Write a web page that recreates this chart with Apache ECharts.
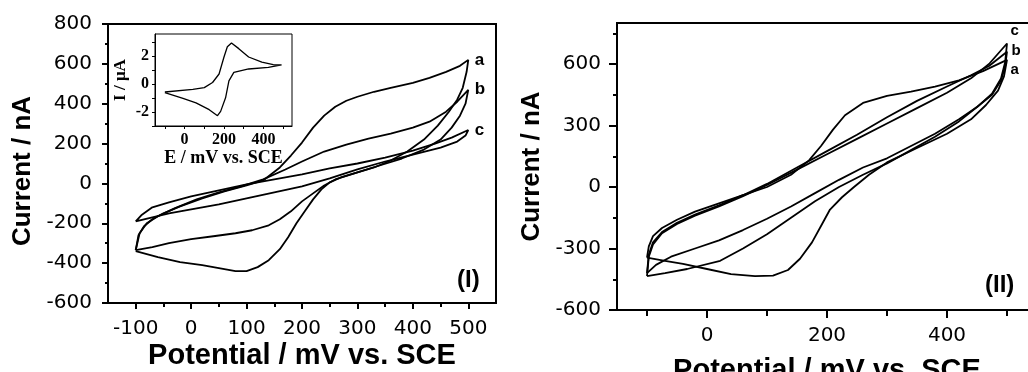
<!DOCTYPE html>
<html>
<head>
<meta charset="utf-8">
<script src="https://cdn.jsdelivr.net/npm/echarts@6/dist/echarts.min.js"></script>
<style>
  html, body { margin: 0; padding: 0; background: #fff; }
  #chart { width: 1028px; height: 372px; }
</style>
</head>
<body>
<div id="chart"></div>
<script>
// ---- panel (I): potential (mV) and current (nA) of each scan ----
const leftA_E = [-100, -95, -85, -70, -50, -20, 20, 60, 100, 130, 160, 180, 200, 220, 240, 260, 280, 300, 330, 360, 400, 430, 460, 485, 500,
  497, 490, 480, 465, 445, 420, 390, 360, 330, 300, 270, 250, 235, 220, 205, 190, 175, 160, 140, 120, 100, 80, 50, 20, -20, -60, -100];
const leftA_I = [-335, -260, -215, -180, -150, -115, -75, -40, -10, 15, 80, 140, 205, 280, 340, 385, 415, 435, 460, 480, 505, 530, 560, 590, 620,
  560, 480, 420, 360, 290, 220, 160, 115, 80, 55, 30, 5, -30, -80, -140, -200, -270, -330, -385, -420, -440, -440, -425, -410, -395, -370, -340];

const leftB_E = [-100, -93, -80, -60, -30, 10, 50, 90, 130, 170, 200, 240, 280, 320, 360, 400, 430, 460, 480, 500,
  495, 485, 470, 450, 420, 380, 340, 300, 260, 240, 220, 200, 180, 160, 140, 110, 80, 40, 0, -40, -70, -100];
const leftB_I = [-335, -250, -200, -165, -125, -80, -45, -15, 20, 70, 110, 160, 195, 225, 250, 280, 310, 360, 410, 470,
  400, 340, 280, 220, 170, 125, 90, 55, 20, -10, -50, -90, -140, -180, -210, -235, -250, -265, -280, -300, -320, -335];

const leftC_E = [-100, -90, -70, -40, 0, 50, 100, 150, 200, 250, 300, 350, 400, 440, 470, 500,
  495, 480, 450, 400, 350, 300, 250, 200, 150, 100, 50, 0, -40, -70, -100];
const leftC_I = [-190, -160, -120, -95, -65, -35, -5, 20, 45, 75, 100, 130, 165, 200, 230, 268,
  240, 210, 180, 145, 110, 70, 25, -15, -45, -75, -105, -130, -150, -170, -190];

// ---- inset: potential (mV) and current (uA) ----
const insetE = [-100, 42, 100, 142, 175, 200, 217, 238, 275, 325, 392, 450, 492,
  425, 325, 250, 225, 208, 183, 167, 125, 58, -8, -100];
const insetI = [-0.56, -0.37, -0.25, 0.12, 0.73, 1.95, 2.68, 2.96, 2.55, 1.95, 1.58, 1.41, 1.39,
  1.21, 1.09, 0.85, 0.24, -0.98, -1.95, -2.26, -1.83, -1.34, -1.02, -0.6];

// ---- panel (II) ----
const rightA_E = [-100, -97, -90, -75, -50, -20, 20, 60, 100, 140, 170, 190, 210, 230, 260, 300, 340, 380, 420, 460, 500,
  495, 485, 465, 440, 400, 350, 300, 270, 245, 225, 205, 190, 175, 155, 135, 110, 80, 40, 0, -40, -70, -100];
const rightA_I = [-345, -290, -240, -200, -160, -120, -80, -40, 0, 60, 130, 200, 280, 350, 410, 445, 465, 490, 520, 565, 620,
  540, 470, 400, 330, 260, 190, 120, 60, 0, -50, -110, -190, -270, -350, -405, -432, -435, -425, -400, -375, -360, -345];

const rightB_E = [-100, -97, -90, -75, -50, -20, 20, 60, 100, 150, 200, 250, 300, 350, 400, 440, 470, 500,
  497, 490, 475, 450, 420, 380, 340, 300, 260, 220, 180, 140, 100, 60, 20, -20, -60, -85, -100];
const rightB_I = [-420, -330, -270, -220, -175, -135, -90, -40, 15, 95, 175, 255, 340, 420, 490, 545, 590, 660,
  590, 520, 450, 390, 330, 260, 200, 140, 95, 35, -30, -95, -155, -210, -260, -300, -340, -380, -420];

const rightC_E = [-100, -97, -90, -75, -50, -20, 20, 60, 100, 150, 200, 250, 300, 350, 400, 440, 470, 500,
  497, 490, 475, 450, 420, 380, 340, 300, 260, 220, 180, 140, 100, 60, 22, -33, -70, -100];
const rightC_I = [-435, -340, -280, -225, -180, -140, -95, -45, 10, 85, 160, 235, 310, 385, 460, 530, 600, 700,
  610, 530, 455, 390, 320, 245, 180, 115, 60, 0, -70, -150, -230, -300, -360, -400, -420, -435];

// tick values
const leftXTicks = [-100, 0, 100, 200, 300, 400, 500];
const leftXMinor = [-50, 50, 150, 250, 350, 450];
const insetXTicks = [-100, 0, 100, 200, 300, 400, 500];
const insetXLabels = [0, 200, 400];
const insetYTicks = [-3, -2, -1, 0, 1, 2, 3];
const insetYLabels = [-2, 0, 2];
const rightXTicks = [0, 200, 400];
const rightXMinor = [-100, 100, 300, 500];
const rightYTicks = [-600, -300, 0, 300, 600];
const rightYMinor = [-450, -150, 150, 450, 750];

const chart = echarts.init(document.getElementById('chart'));

const tickFont = { color: '#000', fontFamily: 'DejaVu Sans', fontSize: 20 };
const titleFont = { color: '#000', fontFamily: 'Liberation Sans', fontWeight: 'bold' };
const serifFont = { color: '#000', fontFamily: 'Liberation Serif', fontWeight: 'bold' };
const blackLine = (w) => ({ show: true, onZero: false, lineStyle: { color: '#000', width: w } });
const noLine = { show: false, onZero: false };

// put the curve's letter next to its positive vertex
function loop(E, I, name, labelOpt) {
  let vertex = 0;
  E.forEach((e, i) => { if (e > E[vertex]) vertex = i; });
  return E.map((e, i) => {
    if (i !== vertex) return [e, I[i]];
    return { value: [e, I[i]], label: Object.assign({ show: true, formatter: name, color: '#000', fontFamily: 'Liberation Sans', fontWeight: 'bold' }, labelOpt) };
  });
}

function curve(E, I, name, xi, yi, labelOpt, width) {
  return {
    type: 'line',
    name: name,
    xAxisIndex: xi,
    yAxisIndex: yi,
    data: labelOpt ? loop(E, I, name, labelOpt) : E.map((e, i) => [e, I[i]]),
    showSymbol: true,
    showAllSymbol: true,
    symbol: 'circle',
    symbolSize: 1,
    itemStyle: { color: 'transparent', borderWidth: 0 },
    lineStyle: { color: '#000', width: width || 1.8 },
    label: { show: false },
    labelLayout: { hideOverlap: false },
    emphasis: { disabled: true },
    silent: true,
    z: 3
  };
}

const gridBase = { show: true, borderColor: '#000', outerBoundsMode: 'none', containLabel: false };

const option = {
  animation: false,
  backgroundColor: '#fff',
  grid: [
    Object.assign({ left: 108, top: 24, width: 388, height: 279, borderWidth: 2, backgroundColor: 'transparent' }, gridBase),
    Object.assign({ left: 155, top: 34, width: 137, height: 92, borderWidth: 1, backgroundColor: '#fff' }, gridBase),
    Object.assign({ left: 617, top: 23, width: 420, height: 287, borderWidth: 2, backgroundColor: 'transparent' }, gridBase)
  ],
  xAxis: [
    {
      gridIndex: 0, type: 'value', min: -150, max: 550, position: 'bottom',
      axisLine: blackLine(2), splitLine: { show: false },
      axisTick: { show: true, length: 6, customValues: leftXTicks, lineStyle: { color: '#000', width: 2 } },
      axisLabel: Object.assign({ customValues: leftXTicks, margin: 16 }, tickFont),
      name: 'Potential / mV vs. SCE', nameLocation: 'middle', nameGap: 38, nameMoveOverlap: false,
      nameTextStyle: Object.assign({ fontSize: 29 }, titleFont)
    },
    {
      gridIndex: 0, type: 'value', min: -150, max: 550, position: 'bottom',
      axisLine: noLine, splitLine: { show: false }, axisLabel: { show: false },
      axisTick: { show: true, length: 4, customValues: leftXMinor, lineStyle: { color: '#000', width: 2 } }
    },
    {
      gridIndex: 1, type: 'value', min: -150, max: 545, position: 'bottom',
      axisLine: blackLine(1), splitLine: { show: false },
      axisTick: { show: true, length: 3, customValues: insetXTicks, lineStyle: { color: '#000', width: 1 } },
      axisLabel: Object.assign({ customValues: insetXLabels, margin: 6, fontSize: 16 }, serifFont),
      name: 'E / mV vs. SCE', nameLocation: 'middle', nameGap: 23, nameMoveOverlap: false,
      nameTextStyle: Object.assign({ fontSize: 18 }, serifFont)
    },
    {
      gridIndex: 2, type: 'value', min: -150, max: 550, position: 'bottom',
      axisLine: blackLine(2), splitLine: { show: false },
      axisTick: { show: true, length: 8, customValues: rightXTicks, lineStyle: { color: '#000', width: 2 } },
      axisLabel: Object.assign({ customValues: rightXTicks, margin: 16 }, tickFont),
      name: 'Potential / mV vs. SCE', nameLocation: 'middle', nameGap: 46, nameMoveOverlap: false,
      nameTextStyle: Object.assign({ fontSize: 29 }, titleFont)
    },
    {
      gridIndex: 2, type: 'value', min: -150, max: 550, position: 'bottom',
      axisLine: noLine, splitLine: { show: false }, axisLabel: { show: false },
      axisTick: { show: true, length: 6, customValues: rightXMinor, lineStyle: { color: '#000', width: 2 } }
    }
  ],
  yAxis: [
    {
      gridIndex: 0, type: 'value', min: -600, max: 800, interval: 200, position: 'left',
      axisLine: blackLine(2), splitLine: { show: false },
      axisTick: { show: true, length: 6, lineStyle: { color: '#000', width: 2 } },
      minorTick: { show: true, splitNumber: 2, length: 3, lineStyle: { color: '#000', width: 2 } },
      axisLabel: Object.assign({ margin: 16 }, tickFont),
      name: 'Current / nA', nameLocation: 'middle', nameGap: 72, nameMoveOverlap: false,
      nameTextStyle: Object.assign({ fontSize: 26, padding: [0, 15, 0, 0] }, titleFont)
    },
    {
      gridIndex: 1, type: 'value', min: -3, max: 3.6, position: 'left',
      axisLine: blackLine(1), splitLine: { show: false },
      axisTick: { show: true, length: 3, customValues: insetYTicks, lineStyle: { color: '#000', width: 1 } },
      axisLabel: Object.assign({ customValues: insetYLabels, margin: 6, fontSize: 16 }, serifFont),
      name: 'I / \u03bcA', nameLocation: 'middle', nameGap: 26, nameMoveOverlap: false,
      nameTextStyle: Object.assign({ fontSize: 17 }, serifFont)
    },
    {
      gridIndex: 2, type: 'value', min: -600, max: 800, position: 'left',
      axisLine: blackLine(2), splitLine: { show: false },
      axisTick: { show: true, length: 8, customValues: rightYTicks, lineStyle: { color: '#000', width: 2 } },
      axisLabel: Object.assign({ customValues: rightYTicks, margin: 16 }, tickFont),
      name: 'Current / nA', nameLocation: 'middle', nameGap: 72, nameMoveOverlap: false,
      nameTextStyle: Object.assign({ fontSize: 26 }, titleFont)
    },
    {
      gridIndex: 2, type: 'value', min: -600, max: 800, position: 'left',
      axisLine: noLine, splitLine: { show: false }, axisLabel: { show: false },
      axisTick: { show: true, length: 4, customValues: rightYMinor, lineStyle: { color: '#000', width: 2 } }
    }
  ],
  series: [
    curve(leftA_E, leftA_I, 'a', 0, 0, { position: 'right', distance: 6, fontSize: 17 }),
    curve(leftB_E, leftB_I, 'b', 0, 0, { position: 'right', distance: 6, fontSize: 17 }),
    curve(leftC_E, leftC_I, 'c', 0, 0, { position: 'right', distance: 6, fontSize: 17 }),
    curve(insetE, insetI, 'inset', 2, 1, null, 1.3),
    curve(rightA_E, rightA_I, 'a', 3, 2, { position: [4, 3], fontSize: 15 }),
    curve(rightB_E, rightB_I, 'b', 3, 2, { position: [5, -8], fontSize: 15 }),
    curve(rightC_E, rightC_I, 'c', 3, 2, { position: [4, -20], fontSize: 15 })
  ],
  graphic: [
    { type: 'text', left: 457, top: 268, style: { text: '(I)', font: 'bold 24px "Liberation Sans"', fill: '#000' } },
    { type: 'text', left: 985, top: 273, style: { text: '(II)', font: 'bold 24px "Liberation Sans"', fill: '#000' } }
  ]
};

chart.setOption(option);
window.addEventListener('resize', () => chart.resize());
</script>
</body>
</html>
